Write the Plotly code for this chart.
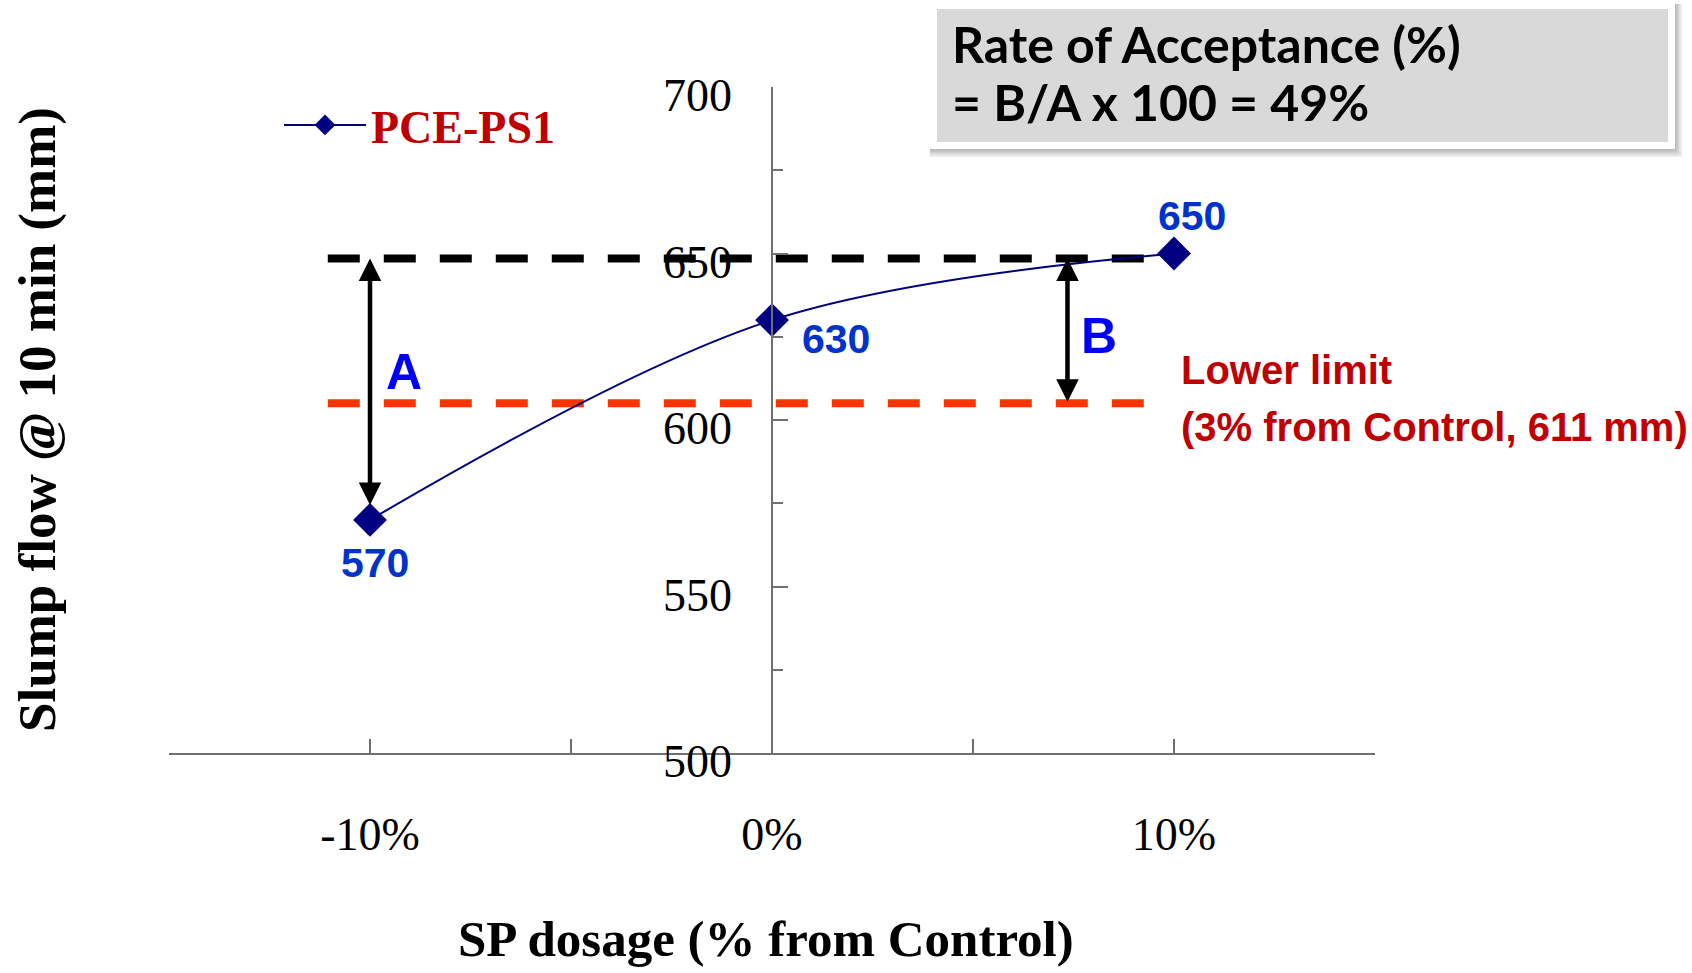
import plotly.graph_objects as go

# ---------------- data ----------------
sp_dosage = [-10, 0, 10]            # SP dosage, % from Control
slump_flow = [570, 630, 650]        # slump flow @ 10 min, mm
series_name = "PCE-PS1"
point_labels = ["570", "630", "650"]
label_shift_x = [5, 64, 18]
label_shift_y = [-43, -19, 38]

upper_ref_value = 648.5             # black dashed reference (as drawn)
lower_limit_value = 605             # red dashed line (as drawn)
ref_line_x = [-11.05, 9.3]

arrow_a_x = -10
arrow_a_y = [648.5, 574]
arrow_b_x = 7.35
arrow_b_y = [648.5, 605]

x_tick_vals = [-15, -10, -5, 0, 5, 10, 15]
x_tick_text = ["", "-10%", "", "0%", "", "10%", ""]
y_tick_vals = [500, 550, 600, 650, 700]
y_tick_text = ["500", "550", "600", "650", "700"]

box_lines = ["Rate of Acceptance (%)", "= B/A x 100 = 49%"]
limit_lines = ["Lower limit", "(3% from Control, 611 mm)"]

# ---------------- layout geometry (pixels) ----------------
W, H = 1692, 973
L, R, T, B = 169, 1375, 87, 753


def px(x):
    return (x - L) / (R - L)


def py(y):
    return (B - y) / (B - T)


NAVY = "#000080"
DARKRED = "#C00000"
SERIF = "Liberation Serif, Times New Roman, serif"
SANS = "Liberation Sans Narrow, Arial Narrow, Liberation Sans, Arial, sans-serif"

fig = go.Figure()

# reference lines
fig.add_trace(go.Scatter(
    x=ref_line_x, y=[upper_ref_value] * 2, mode="lines",
    line=dict(color="black", width=8, dash="32px,24px"),
    showlegend=False, hoverinfo="skip"))
fig.add_trace(go.Scatter(
    x=ref_line_x, y=[lower_limit_value] * 2, mode="lines",
    line=dict(color="#FF3300", width=8, dash="32px,24px"),
    showlegend=False, hoverinfo="skip"))

# data series
fig.add_trace(go.Scatter(
    x=sp_dosage, y=slump_flow, mode="lines+markers", name=series_name,
    line=dict(color=NAVY, width=2, shape="spline", smoothing=1),
    marker=dict(symbol="diamond", size=26, color=NAVY),
    cliponaxis=False))

annotations = []
# data labels
for xv, yv, t, dx, dy in zip(sp_dosage, slump_flow, point_labels, label_shift_x, label_shift_y):
    annotations.append(dict(
        x=xv, y=yv, xref="x", yref="y", text=t, showarrow=False,
        xshift=dx, yshift=dy, xanchor="center", yanchor="middle",
        font=dict(family=SANS, size=41, color="#0033CC", weight="bold")))

# double headed arrows
for ax_x, (y_top, y_bot) in [(arrow_a_x, arrow_a_y), (arrow_b_x, arrow_b_y)]:
    annotations.append(dict(
        x=ax_x, y=y_top, ax=ax_x, ay=y_bot, xref="x", yref="y",
        axref="x", ayref="y", text="", showarrow=True,
        arrowhead=2, startarrowhead=2, arrowside="end+start",
        arrowsize=1, startarrowsize=1, arrowwidth=4.5, arrowcolor="black",
        standoff=0, startstandoff=0))

annotations.append(dict(
    x=arrow_a_x, y=614.4, xref="x", yref="y", text="A", showarrow=False,
    xshift=34, font=dict(family=SANS, size=50, color="#0000FF", weight="bold")))
annotations.append(dict(
    x=arrow_b_x, y=625.2, xref="x", yref="y", text="B", showarrow=False,
    xshift=32, font=dict(family=SANS, size=50, color="#0000FF", weight="bold")))

# lower limit text
for txt, ypix in zip(limit_lines, [370, 427]):
    annotations.append(dict(
        x=px(1179), y=py(ypix), xref="paper", yref="paper", text=txt,
        showarrow=False, xanchor="left", yanchor="middle",
        font=dict(family=SANS, size=40, color=DARKRED, weight="bold")))

# box text
for txt, ypix in zip(box_lines, [44, 102]):
    annotations.append(dict(
        x=px(950), y=py(ypix), xref="paper", yref="paper", text=txt,
        showarrow=False, xanchor="left", yanchor="middle",
        font=dict(family="Lato, Noto Sans, sans-serif", size=50, color="black", weight="bold")))

# axis titles
annotations.append(dict(
    x=px(766), y=py(939), xref="paper", yref="paper",
    text="SP dosage (% from Control)", showarrow=False,
    xanchor="center", yanchor="middle",
    font=dict(family=SERIF, size=51, color="black", weight="bold")))
annotations.append(dict(
    x=px(37), y=py(420), xref="paper", yref="paper",
    text="Slump flow @ 10 min (mm)", showarrow=False, textangle=-90,
    xanchor="center", yanchor="middle",
    font=dict(family=SERIF, size=53, color="black", weight="bold")))

shapes = []
# soft shadow (stacked translucent rects)
for k in range(1, 6):
    shapes.append(dict(
        type="rect", xref="paper", yref="paper", layer="above",
        x0=px(929 + 1), x1=px(1675 + k * 1.4), y0=py(3 + 1), y1=py(149 + k * 1.6),
        fillcolor="rgba(0,0,0,0.06)", line=dict(width=0)))
# white frame
shapes.append(dict(type="rect", xref="paper", yref="paper", layer="above",
                   x0=px(929), x1=px(1675), y0=py(3), y1=py(149),
                   fillcolor="white", line=dict(width=0)))
# grey panel
shapes.append(dict(type="rect", xref="paper", yref="paper", layer="above",
                   x0=px(937), x1=px(1668), y0=py(9), y1=py(142),
                   fillcolor="#D9D9D9", line=dict(width=0)))

fig.update_layout(
    width=W, height=H,
    margin=dict(l=L, r=W - R, t=T, b=H - B, pad=0),
    paper_bgcolor="white", plot_bgcolor="white",
    showlegend=True,
    legend=dict(x=px(279), y=py(125), xanchor="left", yanchor="middle",
                bgcolor="rgba(0,0,0,0)", itemwidth=82,
                font=dict(family=SERIF, size=46, color=DARKRED, weight="bold")),
    xaxis=dict(range=[-15, 15], tickvals=x_tick_vals, ticktext=x_tick_text,
               showgrid=False, zeroline=False, showline=True,
               linecolor="#707070", linewidth=1.5,
               ticks="inside", ticklen=14, tickwidth=1.5, tickcolor="#707070",
               ticklabelstandoff=40,
               tickfont=dict(family=SERIF, size=46, color="black")),
    yaxis=dict(range=[500, 700], tickvals=y_tick_vals, ticktext=y_tick_text,
               anchor="free", position=0.5, side="left",
               showgrid=False, zeroline=False, showline=True,
               linecolor="#707070", linewidth=1.5,
               ticks="inside", ticklen=15, tickwidth=1.5, tickcolor="#707070",
               minor=dict(ticks="inside", ticklen=10, tickwidth=1.5,
                          tickcolor="#707070", dtick=25, showgrid=False),
               ticklabelstandoff=30, ticklabelshift=8,
               tickfont=dict(family=SERIF, size=46, color="black")),
    annotations=annotations,
    shapes=shapes,
)

fig.write_html("out.html")
